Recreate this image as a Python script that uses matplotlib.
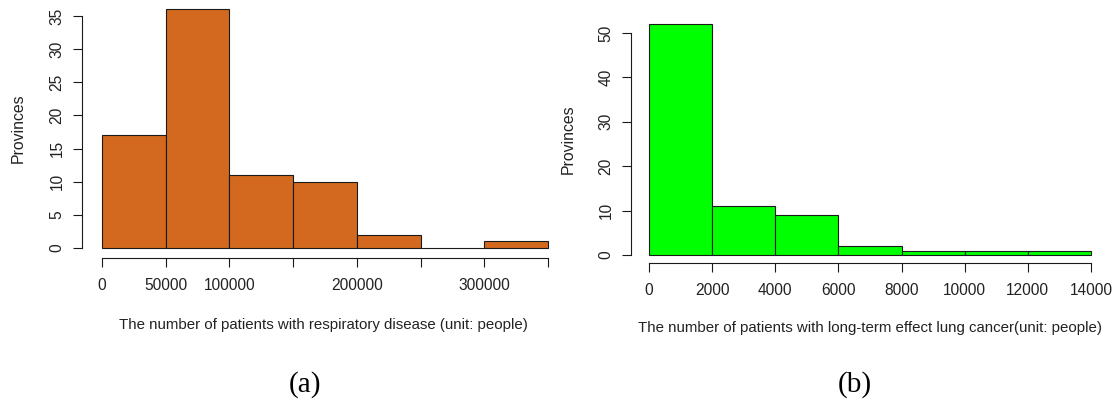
import matplotlib.pyplot as plt
import numpy as np

# histogram (a): respiratory disease
resp_breaks = [0, 50000, 100000, 150000, 200000, 250000, 300000, 350000]
resp_counts = [17, 36, 11, 10, 2, 0, 1]
resp_ticklabels = ["0", "50000", "100000", "", "200000", "", "300000", ""]
resp_yticks = [0, 5, 10, 15, 20, 25, 30, 35]

# histogram (b): long-term effect lung cancer
lung_breaks = [0, 2000, 4000, 6000, 8000, 10000, 12000, 14000]
lung_counts = [52, 11, 9, 2, 1, 1, 1]
lung_ticklabels = ["0", "2000", "4000", "6000", "8000", "10000", "12000", "14000"]
lung_yticks = [0, 10, 20, 30, 40, 50]

W, H = 1113, 404
plt.rcParams['font.family'] = ['Liberation Sans', 'DejaVu Sans']
txt_color = '#222222'

fig = plt.figure(figsize=(W / 100, H / 100), dpi=100)


def px_axes(left, top, right, bottom):
    return fig.add_axes([left / W, 1 - bottom / H, (right - left) / W, (bottom - top) / H])


def r_hist(ax, breaks, counts, labels, yticks, color):
    breaks = np.array(breaks)
    ax.bar(breaks[:-1], counts, width=np.diff(breaks), align='edge',
           color=color, edgecolor='#1a1a1a', linewidth=0.8)
    for side in ('top', 'right'):
        ax.spines[side].set_visible(False)
    ax.spines['left'].set_bounds(yticks[0], yticks[-1])
    ax.spines['bottom'].set_bounds(breaks[0], breaks[-1])
    for side in ('left', 'bottom'):
        ax.spines[side].set_linewidth(0.8)
        ax.spines[side].set_color('#1a1a1a')
    ax.set_xticks(breaks)
    ax.set_xticklabels(labels)
    ax.set_yticks(yticks)
    ax.set_yticklabels([str(v) for v in yticks], rotation=90, va='center')
    ax.tick_params(length=6.5, width=0.8, color='#1a1a1a', labelsize=11.2,
                   labelcolor=txt_color)
    ax.tick_params(axis='x', pad=8)
    ax.tick_params(axis='y', pad=6)


# (a) y-axis at x=82, 0 -> 102, 350000 -> 548, y: 0 -> 248, 35 -> 16, axis line at 258
ax1 = px_axes(82, 2, 566, 258)
sx = 446 / 350000
ax1.set_xlim(-20 / sx, 350000 + 18 / sx)
sy = 232 / 35
ax1.set_ylim(-10 / sy, 35 + 14 / sy)
r_hist(ax1, resp_breaks, resp_counts, resp_ticklabels, resp_yticks, '#D2691E')

# (b) y-axis at x=631, 0 -> 649, 14000 -> 1091, y: 0 -> 255, 50 -> 33, axis line at 263
ax2 = px_axes(631, 20, 1105, 263)
sx = 442 / 14000
ax2.set_xlim(-18 / sx, 14000 + 14 / sx)
sy = 222 / 50
ax2.set_ylim(-8 / sy, 50 + 13 / sy)
r_hist(ax2, lung_breaks, lung_counts, lung_ticklabels, lung_yticks, '#00FF00')

# axis titles
fig.text(323 / W, 1 - 325 / H, "The number of patients with respiratory disease (unit: people)",
         ha='center', va='center', fontsize=10.8, color=txt_color)
fig.text(18 / W, 1 - 128 / H, "Provinces", rotation=90, ha='center', va='center',
         fontsize=11.4, color=txt_color)
fig.text(870 / W, 1 - 328 / H, "The number of patients with long-term effect lung cancer(unit: people)",
         ha='center', va='center', fontsize=10.8, color=txt_color)
fig.text(568 / W, 1 - 139 / H, "Provinces", rotation=90, ha='center', va='center',
         fontsize=11.4, color=txt_color)

# panel captions
fig.text(305 / W, 1 - 385 / H, "(a)", ha='center', va='center', fontsize=21,
         family='Liberation Serif', color='black')
fig.text(855 / W, 1 - 385 / H, "(b)", ha='center', va='center', fontsize=21,
         family='Liberation Serif', color='black')

fig.savefig("out.png", dpi=100)
